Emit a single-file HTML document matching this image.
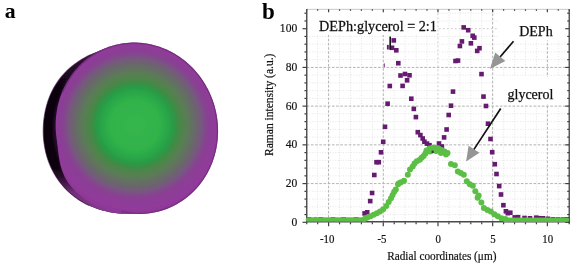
<!DOCTYPE html>
<html><head><meta charset="utf-8"><style>
html,body{margin:0;padding:0;background:#fff;width:575px;height:266px;overflow:hidden;}
svg{display:block;font-family:"Liberation Serif", serif;will-change:transform;}
</style></head><body><svg width="575" height="266" viewBox="0 0 575 266">
<defs>
<radialGradient id="face" cx="135" cy="125" r="90" gradientUnits="userSpaceOnUse"><stop offset="0.000" stop-color="#36b64d"/><stop offset="0.280" stop-color="#30b24a"/><stop offset="0.355" stop-color="#2aa848"/><stop offset="0.420" stop-color="#289c47"/><stop offset="0.467" stop-color="#3a8e44"/><stop offset="0.523" stop-color="#4f844a"/><stop offset="0.579" stop-color="#5a7c56"/><stop offset="0.635" stop-color="#637062"/><stop offset="0.691" stop-color="#6c646e"/><stop offset="0.747" stop-color="#785682"/><stop offset="0.793" stop-color="#86448f"/><stop offset="0.840" stop-color="#8c3d96"/><stop offset="0.933" stop-color="#913a9b"/><stop offset="0.999" stop-color="#8c3896"/></radialGradient>
<radialGradient id="sideR" cx="139" cy="129" r="97" gradientUnits="userSpaceOnUse">
<stop offset="0.835" stop-color="#34123c"/>
<stop offset="0.875" stop-color="#1c0822"/>
<stop offset="0.915" stop-color="#0a020a"/>
<stop offset="1" stop-color="#060106"/>
</radialGradient>
<linearGradient id="sideV" x1="0" y1="46" x2="0" y2="214" gradientUnits="userSpaceOnUse">
<stop offset="0" stop-color="#5a2262" stop-opacity="0.85"/>
<stop offset="0.1" stop-color="#4a1a50" stop-opacity="0.55"/>
<stop offset="0.2" stop-color="#3a1240" stop-opacity="0.25"/>
<stop offset="0.3" stop-color="#2a0c2e" stop-opacity="0.0"/>
<stop offset="0.7" stop-color="#2a0c2e" stop-opacity="0.0"/>
<stop offset="0.79" stop-color="#5a2262" stop-opacity="0.5"/>
<stop offset="0.87" stop-color="#7e3486" stop-opacity="0.9"/>
<stop offset="1" stop-color="#8c3a94" stop-opacity="1"/>
</linearGradient>
<linearGradient id="mg" x1="0" y1="0" x2="1" y2="0"><stop offset="0.5" stop-color="#fff"/><stop offset="0.62" stop-color="#000"/></linearGradient><mask id="leftmask" maskUnits="userSpaceOnUse" x="0" y="0" width="260" height="266"><rect x="0" y="0" width="260" height="266" fill="url(#mg)"/></mask>
<filter id="bl" x="-10%" y="-10%" width="120%" height="120%"><feGaussianBlur stdDeviation="0.7"/></filter>
</defs>
<g filter="url(#bl)">
<g mask="url(#leftmask)"><path d="M217.17,129.00 L217.00,131.73 L216.78,134.46 L216.50,137.18 L216.16,139.89 L215.77,142.59 L215.33,145.28 L214.84,147.96 L214.29,150.64 L213.69,153.31 L213.03,155.98 L212.31,158.63 L211.53,161.28 L210.68,163.91 L209.75,166.53 L208.75,169.12 L207.66,171.70 L206.49,174.24 L205.22,176.74 L203.86,179.20 L202.41,181.61 L200.85,183.96 L199.20,186.24 L197.44,188.46 L195.59,190.60 L193.65,192.65 L191.61,194.61 L189.48,196.47 L187.28,198.24 L185.00,199.90 L182.64,201.46 L180.23,202.91 L177.76,204.26 L175.25,205.51 L172.69,206.65 L170.10,207.69 L167.48,208.64 L164.83,209.49 L162.17,210.26 L159.50,210.95 L156.82,211.55 L154.14,212.09 L151.45,212.55 L148.76,212.95 L146.08,213.28 L143.39,213.56 L140.71,213.77 L138.03,213.94 L135.35,214.05 L132.67,214.10 L130.00,214.10 L127.33,214.04 L124.66,213.93 L121.99,213.76 L119.32,213.52 L116.66,213.22 L114.00,212.86 L111.35,212.43 L108.71,211.92 L106.08,211.34 L103.46,210.69 L100.85,209.96 L98.27,209.14 L95.71,208.25 L93.17,207.27 L90.66,206.21 L88.18,205.07 L85.74,203.84 L83.34,202.53 L80.98,201.13 L78.67,199.66 L76.40,198.10 L74.19,196.46 L72.04,194.74 L69.95,192.95 L67.92,191.08 L65.95,189.14 L64.06,187.14 L62.24,185.06 L60.49,182.92 L58.82,180.72 L57.23,178.46 L55.72,176.14 L54.29,173.77 L52.95,171.36 L51.70,168.90 L50.54,166.39 L49.46,163.85 L48.47,161.28 L47.57,158.68 L46.76,156.05 L46.04,153.39 L45.40,150.72 L44.85,148.03 L44.38,145.33 L44.00,142.62 L43.69,139.90 L43.47,137.18 L43.33,134.45 L43.26,131.73 L43.27,129.00 L43.36,126.28 L43.52,123.56 L43.76,120.85 L44.08,118.15 L44.47,115.45 L44.93,112.77 L45.48,110.11 L46.11,107.46 L46.81,104.83 L47.60,102.23 L48.47,99.65 L49.43,97.10 L50.47,94.59 L51.60,92.11 L52.82,89.67 L54.12,87.29 L55.51,84.95 L56.98,82.66 L58.54,80.44 L60.18,78.27 L61.89,76.17 L63.68,74.14 L65.54,72.17 L67.47,70.28 L69.46,68.46 L71.50,66.71 L73.60,65.03 L75.75,63.42 L77.94,61.88 L80.17,60.42 L82.44,59.01 L84.74,57.68 L87.07,56.40 L89.42,55.19 L91.80,54.03 L94.21,52.93 L96.63,51.89 L99.08,50.90 L101.55,49.97 L104.04,49.09 L106.55,48.27 L109.08,47.50 L111.63,46.80 L114.20,46.16 L116.79,45.58 L119.40,45.07 L122.02,44.63 L124.67,44.26 L127.33,43.98 L130.00,43.77 L132.68,43.66 L135.37,43.63 L138.06,43.69 L140.76,43.84 L143.45,44.09 L146.13,44.43 L148.81,44.87 L151.46,45.40 L154.11,46.02 L156.73,46.74 L159.33,47.54 L161.90,48.43 L164.44,49.40 L166.96,50.46 L169.44,51.60 L171.89,52.81 L174.30,54.09 L176.68,55.45 L179.02,56.87 L181.32,58.37 L183.58,59.93 L185.79,61.56 L187.96,63.25 L190.09,65.01 L192.16,66.84 L194.18,68.73 L196.14,70.69 L198.04,72.71 L199.88,74.80 L201.64,76.95 L203.32,79.17 L204.93,81.45 L206.44,83.79 L207.87,86.19 L209.20,88.64 L210.44,91.15 L211.57,93.70 L212.60,96.30 L213.52,98.93 L214.34,101.60 L215.05,104.29 L215.65,107.01 L216.16,109.74 L216.57,112.49 L216.88,115.24 L217.10,118.00 L217.23,120.75 L217.28,123.51 L217.26,126.26 Z" fill="url(#sideR)"/><path d="M217.17,129.00 L217.00,131.73 L216.78,134.46 L216.50,137.18 L216.16,139.89 L215.77,142.59 L215.33,145.28 L214.84,147.96 L214.29,150.64 L213.69,153.31 L213.03,155.98 L212.31,158.63 L211.53,161.28 L210.68,163.91 L209.75,166.53 L208.75,169.12 L207.66,171.70 L206.49,174.24 L205.22,176.74 L203.86,179.20 L202.41,181.61 L200.85,183.96 L199.20,186.24 L197.44,188.46 L195.59,190.60 L193.65,192.65 L191.61,194.61 L189.48,196.47 L187.28,198.24 L185.00,199.90 L182.64,201.46 L180.23,202.91 L177.76,204.26 L175.25,205.51 L172.69,206.65 L170.10,207.69 L167.48,208.64 L164.83,209.49 L162.17,210.26 L159.50,210.95 L156.82,211.55 L154.14,212.09 L151.45,212.55 L148.76,212.95 L146.08,213.28 L143.39,213.56 L140.71,213.77 L138.03,213.94 L135.35,214.05 L132.67,214.10 L130.00,214.10 L127.33,214.04 L124.66,213.93 L121.99,213.76 L119.32,213.52 L116.66,213.22 L114.00,212.86 L111.35,212.43 L108.71,211.92 L106.08,211.34 L103.46,210.69 L100.85,209.96 L98.27,209.14 L95.71,208.25 L93.17,207.27 L90.66,206.21 L88.18,205.07 L85.74,203.84 L83.34,202.53 L80.98,201.13 L78.67,199.66 L76.40,198.10 L74.19,196.46 L72.04,194.74 L69.95,192.95 L67.92,191.08 L65.95,189.14 L64.06,187.14 L62.24,185.06 L60.49,182.92 L58.82,180.72 L57.23,178.46 L55.72,176.14 L54.29,173.77 L52.95,171.36 L51.70,168.90 L50.54,166.39 L49.46,163.85 L48.47,161.28 L47.57,158.68 L46.76,156.05 L46.04,153.39 L45.40,150.72 L44.85,148.03 L44.38,145.33 L44.00,142.62 L43.69,139.90 L43.47,137.18 L43.33,134.45 L43.26,131.73 L43.27,129.00 L43.36,126.28 L43.52,123.56 L43.76,120.85 L44.08,118.15 L44.47,115.45 L44.93,112.77 L45.48,110.11 L46.11,107.46 L46.81,104.83 L47.60,102.23 L48.47,99.65 L49.43,97.10 L50.47,94.59 L51.60,92.11 L52.82,89.67 L54.12,87.29 L55.51,84.95 L56.98,82.66 L58.54,80.44 L60.18,78.27 L61.89,76.17 L63.68,74.14 L65.54,72.17 L67.47,70.28 L69.46,68.46 L71.50,66.71 L73.60,65.03 L75.75,63.42 L77.94,61.88 L80.17,60.42 L82.44,59.01 L84.74,57.68 L87.07,56.40 L89.42,55.19 L91.80,54.03 L94.21,52.93 L96.63,51.89 L99.08,50.90 L101.55,49.97 L104.04,49.09 L106.55,48.27 L109.08,47.50 L111.63,46.80 L114.20,46.16 L116.79,45.58 L119.40,45.07 L122.02,44.63 L124.67,44.26 L127.33,43.98 L130.00,43.77 L132.68,43.66 L135.37,43.63 L138.06,43.69 L140.76,43.84 L143.45,44.09 L146.13,44.43 L148.81,44.87 L151.46,45.40 L154.11,46.02 L156.73,46.74 L159.33,47.54 L161.90,48.43 L164.44,49.40 L166.96,50.46 L169.44,51.60 L171.89,52.81 L174.30,54.09 L176.68,55.45 L179.02,56.87 L181.32,58.37 L183.58,59.93 L185.79,61.56 L187.96,63.25 L190.09,65.01 L192.16,66.84 L194.18,68.73 L196.14,70.69 L198.04,72.71 L199.88,74.80 L201.64,76.95 L203.32,79.17 L204.93,81.45 L206.44,83.79 L207.87,86.19 L209.20,88.64 L210.44,91.15 L211.57,93.70 L212.60,96.30 L213.52,98.93 L214.34,101.60 L215.05,104.29 L215.65,107.01 L216.16,109.74 L216.57,112.49 L216.88,115.24 L217.10,118.00 L217.23,120.75 L217.28,123.51 L217.26,126.26 Z" fill="url(#sideV)"/></g>
<path d="M57,118 C56.98,120.00 56.82,125.50 56.9,130 C56.98,134.50 57.08,140.00 57.5,145 C57.92,150.00 58.67,155.83 59.4,160 C60.13,164.17 60.73,166.67 61.9,170 C63.07,173.33 64.72,177.08 66.4,180 C68.08,182.92 70.07,185.25 72,187.5 C73.93,189.75 75.00,191.00 78,193.5 C81.00,196.00 85.50,199.88 90,202.5 C94.50,205.12 100.00,207.57 105,209.2 C110.00,210.83 115.00,211.62 120,212.3 C125.00,212.98 132.50,213.13 135,213.3 L137,129 Z" fill="url(#face)"/><path d="M214.54,105.98 L215.32,108.88 L216.00,111.81 L216.59,114.75 L217.08,117.72 L217.47,120.69 L217.77,123.67 L217.96,126.66 L218.06,129.65 L218.05,132.64 L217.95,135.62 L217.75,138.60 L217.45,141.56 L217.06,144.50 L216.56,147.43 L215.97,150.33 L215.28,153.21 L214.50,156.05 L213.62,158.86 L212.65,161.64 L211.58,164.37 L210.43,167.06 L209.18,169.70 L207.85,172.29 L206.43,174.83 L204.92,177.31 L203.34,179.73 L201.67,182.09 L199.92,184.38 L198.10,186.60 L196.20,188.76 L194.22,190.83 L192.18,192.84 L190.07,194.76 L187.90,196.60 L185.67,198.36 L183.37,200.04 L181.02,201.62 L178.61,203.12 L176.16,204.53 L173.65,205.84 L171.10,207.06 L168.51,208.18 L165.88,209.21 L163.22,210.13 L160.52,210.96 L157.79,211.68 L155.04,212.31 L152.27,212.83 L149.47,213.25 L146.67,213.56 L143.85,213.77 L141.02,213.88 L138.18,213.88 L135.35,213.78 L132.51,213.57 L129.69,213.26 L126.87,212.85 L124.06,212.33 L121.27,211.71 L118.50,210.99 L115.74,210.17 L113.02,209.25 L110.32,208.23 L107.66,207.11 L105.03,205.89 L102.44,204.59 L99.90,203.18 L97.39,201.69 L94.94,200.11 L92.54,198.44 L90.19,196.68 L87.90,194.84 L85.66,192.92 L83.49,190.92 L81.39,188.85 L79.35,186.70 L77.38,184.48 L75.49,182.19 L73.67,179.83 L71.92,177.41 L70.26,174.94 L68.68,172.40 L67.18,169.81 L65.76,167.17 L64.43,164.49 L63.19,161.75 L62.04,158.98 L60.98,156.17 L60.01,153.33 L59.14,150.46 L58.36,147.56 L57.68,144.63 L57.09,141.69 L56.60,138.72 L56.21,135.75 L55.91,132.77 L55.72,129.78 L55.62,126.79 L55.63,123.80 L55.73,120.82 L55.93,117.84 L56.23,114.88 L56.62,111.94 L57.12,109.01 L57.71,106.11 L58.40,103.23 L59.18,100.39 L60.06,97.58 L61.03,94.80 L62.10,92.07 L63.25,89.38 L64.50,86.74 L65.83,84.15 L67.25,81.61 L68.76,79.13 L70.34,76.71 L72.01,74.35 L73.76,72.06 L75.58,69.84 L77.48,67.68 L79.46,65.61 L81.50,63.60 L83.61,61.68 L85.78,59.84 L88.01,58.08 L90.31,56.40 L92.66,54.82 L95.07,53.32 L97.52,51.91 L100.03,50.60 L102.58,49.38 L105.17,48.26 L107.80,47.23 L110.46,46.31 L113.16,45.48 L115.89,44.76 L118.64,44.13 L121.41,43.61 L124.21,43.19 L127.01,42.88 L129.83,42.67 L132.66,42.56 L135.50,42.56 L138.33,42.66 L141.17,42.87 L143.99,43.18 L146.81,43.59 L149.62,44.11 L152.41,44.73 L155.18,45.45 L157.94,46.27 L160.66,47.19 L163.36,48.21 L166.02,49.33 L168.65,50.55 L171.24,51.85 L173.78,53.26 L176.29,54.75 L178.74,56.33 L181.14,58.00 L183.49,59.76 L185.78,61.60 L188.02,63.52 L190.19,65.52 L192.29,67.59 L194.33,69.74 L196.30,71.96 L198.19,74.25 L200.01,76.61 L201.76,79.03 L203.42,81.50 L205.00,84.04 L206.50,86.63 L207.92,89.27 L209.25,91.95 L210.49,94.69 L211.64,97.46 L212.70,100.27 L213.67,103.11 Z" fill="url(#face)"/><path d="M62.65,92.32 L63.71,89.84 L64.84,87.40 L66.06,85.00 L67.35,82.65 L68.71,80.35 L70.14,78.09 L71.64,75.89 L73.21,73.75 L74.85,71.66 L76.55,69.63 L78.32,67.66 L80.14,65.76 L82.03,63.92 L83.98,62.15 L85.98,60.45 L88.03,58.82 L90.13,57.26 L92.29,55.78 L94.49,54.37 L96.73,53.04 L99.02,51.79 L101.34,50.62 L103.71,49.53 L106.10,48.53 L108.53,47.60 L110.99,46.77 L113.48,46.01 L115.99,45.35 L118.53,44.77 L121.08,44.28 L123.65,43.87 L126.23,43.56 L128.83,43.33 L131.43,43.19 L134.04,43.15 L136.65,43.19 L139.26,43.32 L141.87,43.54 L144.47,43.84 L147.07,44.24 L149.66,44.73 L152.23,45.30 L154.78,45.96 L157.32,46.70 L159.83,47.54 L162.33,48.45 L164.79,49.45 L167.22,50.53 L169.63,51.70 L172.00,52.94 L174.33,54.27 L176.62,55.67 L178.87,57.14 L181.08,58.70 L183.24,60.32 L185.35,62.02 L187.41,63.78 L189.42,65.62 L191.37,67.51 L193.26,69.48 L195.10,71.50 L196.88,73.58 L198.59,75.72 L200.23,77.92 L201.81,80.17 L203.33,82.47 L204.77,84.82 L206.14,87.21 L207.44,89.64 L208.66,92.12 L209.81,94.63 L210.88,97.18 L211.88,99.77 L212.80,102.38 L213.63,105.02 L214.39,107.68 L215.06,110.36 L215.65,113.07 L216.16,115.79 L216.59,118.52 L216.93,121.26 L217.19,124.01 L217.37,126.77 L217.46,129.52 L217.46,132.28 L217.38,135.03 L217.22,137.77 L216.97,140.50 L216.64,143.22 L216.22,145.93 L215.72,148.61 L215.14,151.28 L214.47,153.92 L213.73,156.53 L212.90,159.12 L212.00,161.67 L211.01,164.18 L209.95,166.66 L208.81,169.10 L207.59,171.49 L206.30,173.84 L204.94,176.15 L203.51,178.40 L202.00,180.60 L200.43,182.74 L198.79,184.83 L197.09,186.85 L195.32,188.82 L193.49,190.72 L191.60,192.56 L189.66,194.33 L187.66,196.03 L185.60,197.66 L183.50,199.21 L181.34,200.69 L179.14,202.10 L176.90,203.43 L174.61,204.67 L172.28,205.84 L169.92,206.93 L167.52,207.93 L165.09,208.86 L162.63,209.69 L160.14,210.44 L157.63,211.11 L155.09,211.68 L152.54,212.17 L149.97,212.58 L147.39,212.89 L144.79,213.11 L142.19,213.25 L139.58,213.29 L136.97,213.25 L134.36,213.12 L131.75,212.90 L129.14,212.59 L126.55,212.19 L123.96,211.70 L121.39,211.13" fill="none" stroke="#6e2a76" stroke-width="1.2" stroke-opacity="0.8"/><path d="M90.48,54.67 L88.83,55.49 L87.19,56.34 L85.57,57.22 L83.95,58.12 L82.36,59.06 L80.78,60.03 L79.22,61.03 L77.67,62.07 L76.14,63.14 L74.64,64.24 L73.16,65.37 L71.70,66.55 L70.27,67.75 L68.86,68.99 L67.48,70.27 L66.13,71.58 L64.82,72.92 L63.53,74.30 L62.29,75.71 L61.07,77.15 L59.90,78.63 L58.76,80.14 L57.66,81.68 L56.60,83.24 L55.58,84.84 L54.60,86.46 L53.66,88.10 L52.77,89.77 L51.92,91.46 L51.10,93.17 L50.34,94.90 L49.61,96.65 L48.92,98.42 L48.28,100.20 L47.68,101.99 L47.11,103.80 L46.59,105.62 L46.11,107.45 L45.66,109.29 L45.26,111.14 L44.89,113.00 L44.56,114.87 L44.27,116.74 L44.02,118.61 L43.80,120.49 L43.62,122.38 L43.47,124.27 L43.37,126.16 L43.29,128.05 L43.26,129.95 L43.26,131.85 L43.30,133.74 L43.38,135.64 L43.49,137.54 L43.65,139.43 L43.84,141.33 L44.07,143.22 L44.34,145.10 L44.65,146.98 L45.01,148.86 L45.40,150.73 L45.83,152.59 L46.31,154.44 L46.83,156.28 L47.39,158.11 L47.99,159.93 L48.64,161.74 L49.33,163.53 L50.06,165.30 L50.84,167.06 L51.65,168.80 L52.51,170.52 L53.42,172.21 L54.36,173.89 L55.35,175.54 L56.37,177.17 L57.44,178.77 L58.54,180.34 L59.69,181.89 L60.87,183.40 L62.09,184.89 L63.35,186.34 L64.64,187.77 L65.97,189.16 L67.33,190.51 L68.72,191.84 L70.14,193.12 L71.60,194.37 L73.08,195.59 L74.59,196.76 L76.13,197.90 L77.69,199.00 L79.28,200.06 L80.90,201.08 L82.53,202.06 L84.19,203.01 L85.87,203.91 L87.56,204.77 L89.28,205.59" fill="none" stroke="#3a1040" stroke-width="1.1" stroke-opacity="0.6"/>
</g>
<g stroke="#e2e2e2" stroke-width="0.9" stroke-dasharray="1 1.6"><line x1="317.66" y1="9.34" x2="317.66" y2="222.30"/><line x1="339.54" y1="9.34" x2="339.54" y2="222.30"/><line x1="350.48" y1="9.34" x2="350.48" y2="222.30"/><line x1="361.41" y1="9.34" x2="361.41" y2="222.30"/><line x1="372.35" y1="9.34" x2="372.35" y2="222.30"/><line x1="394.23" y1="9.34" x2="394.23" y2="222.30"/><line x1="405.17" y1="9.34" x2="405.17" y2="222.30"/><line x1="416.10" y1="9.34" x2="416.10" y2="222.30"/><line x1="427.04" y1="9.34" x2="427.04" y2="222.30"/><line x1="448.92" y1="9.34" x2="448.92" y2="222.30"/><line x1="459.86" y1="9.34" x2="459.86" y2="222.30"/><line x1="470.79" y1="9.34" x2="470.79" y2="222.30"/><line x1="481.73" y1="9.34" x2="481.73" y2="222.30"/><line x1="503.61" y1="9.34" x2="503.61" y2="222.30"/><line x1="514.55" y1="9.34" x2="514.55" y2="222.30"/><line x1="525.48" y1="9.34" x2="525.48" y2="222.30"/><line x1="536.42" y1="9.34" x2="536.42" y2="222.30"/><line x1="558.30" y1="9.34" x2="558.30" y2="222.30"/><line x1="306.72" y1="214.56" x2="569.24" y2="214.56"/><line x1="306.72" y1="206.81" x2="569.24" y2="206.81"/><line x1="306.72" y1="199.07" x2="569.24" y2="199.07"/><line x1="306.72" y1="191.32" x2="569.24" y2="191.32"/><line x1="306.72" y1="175.84" x2="569.24" y2="175.84"/><line x1="306.72" y1="168.09" x2="569.24" y2="168.09"/><line x1="306.72" y1="160.35" x2="569.24" y2="160.35"/><line x1="306.72" y1="152.60" x2="569.24" y2="152.60"/><line x1="306.72" y1="137.12" x2="569.24" y2="137.12"/><line x1="306.72" y1="129.37" x2="569.24" y2="129.37"/><line x1="306.72" y1="121.63" x2="569.24" y2="121.63"/><line x1="306.72" y1="113.88" x2="569.24" y2="113.88"/><line x1="306.72" y1="98.40" x2="569.24" y2="98.40"/><line x1="306.72" y1="90.65" x2="569.24" y2="90.65"/><line x1="306.72" y1="82.91" x2="569.24" y2="82.91"/><line x1="306.72" y1="75.16" x2="569.24" y2="75.16"/><line x1="306.72" y1="59.68" x2="569.24" y2="59.68"/><line x1="306.72" y1="51.93" x2="569.24" y2="51.93"/><line x1="306.72" y1="44.19" x2="569.24" y2="44.19"/><line x1="306.72" y1="36.44" x2="569.24" y2="36.44"/><line x1="306.72" y1="20.96" x2="569.24" y2="20.96"/><line x1="306.72" y1="13.21" x2="569.24" y2="13.21"/></g><g stroke="#b2b2b2" stroke-width="1" stroke-dasharray="2.6 1.6"><line x1="328.60" y1="9.34" x2="328.60" y2="222.30"/><line x1="383.29" y1="9.34" x2="383.29" y2="222.30"/><line x1="492.67" y1="9.34" x2="492.67" y2="222.30"/><line x1="547.36" y1="9.34" x2="547.36" y2="222.30"/><line x1="306.72" y1="183.58" x2="569.24" y2="183.58"/><line x1="306.72" y1="144.86" x2="569.24" y2="144.86"/><line x1="306.72" y1="106.14" x2="569.24" y2="106.14"/><line x1="306.72" y1="67.42" x2="569.24" y2="67.42"/></g><g stroke="#cdcdcd" stroke-width="1" stroke-dasharray="2 2"><line x1="437.98" y1="9.34" x2="437.98" y2="222.30"/><line x1="306.72" y1="28.70" x2="569.24" y2="28.70"/></g><rect x="307.5" y="10" width="129.5" height="25" fill="#fff"/><rect x="498" y="10" width="70.5" height="30.5" fill="#fff"/><rect x="494" y="77" width="74.5" height="27" fill="#fff"/><line x1="306.72" y1="9.34" x2="569.24" y2="9.34" stroke="#c8c8c8" stroke-width="1"/><line x1="306.72" y1="9.34" x2="306.72" y2="222.30" stroke="#505050" stroke-width="1.5"/><line x1="569.24" y1="9.34" x2="569.24" y2="223.30" stroke="#505050" stroke-width="1.4"/><line x1="306.72" y1="221.85" x2="569.24" y2="221.85" stroke="#4a4a4a" stroke-width="1.5"/><g stroke="#404040" stroke-width="1.2"><line x1="306.72" y1="222.30" x2="306.72" y2="224.30"/><line x1="306.72" y1="9.34" x2="306.72" y2="10.84"/><line x1="317.66" y1="222.30" x2="317.66" y2="224.30"/><line x1="317.66" y1="9.34" x2="317.66" y2="10.84"/><line x1="328.60" y1="222.30" x2="328.60" y2="226.30"/><line x1="328.60" y1="9.34" x2="328.60" y2="12.34"/><line x1="339.54" y1="222.30" x2="339.54" y2="224.30"/><line x1="339.54" y1="9.34" x2="339.54" y2="10.84"/><line x1="350.48" y1="222.30" x2="350.48" y2="224.30"/><line x1="350.48" y1="9.34" x2="350.48" y2="10.84"/><line x1="361.41" y1="222.30" x2="361.41" y2="224.30"/><line x1="361.41" y1="9.34" x2="361.41" y2="10.84"/><line x1="372.35" y1="222.30" x2="372.35" y2="224.30"/><line x1="372.35" y1="9.34" x2="372.35" y2="10.84"/><line x1="383.29" y1="222.30" x2="383.29" y2="226.30"/><line x1="383.29" y1="9.34" x2="383.29" y2="12.34"/><line x1="394.23" y1="222.30" x2="394.23" y2="224.30"/><line x1="394.23" y1="9.34" x2="394.23" y2="10.84"/><line x1="405.17" y1="222.30" x2="405.17" y2="224.30"/><line x1="405.17" y1="9.34" x2="405.17" y2="10.84"/><line x1="416.10" y1="222.30" x2="416.10" y2="224.30"/><line x1="416.10" y1="9.34" x2="416.10" y2="10.84"/><line x1="427.04" y1="222.30" x2="427.04" y2="224.30"/><line x1="427.04" y1="9.34" x2="427.04" y2="10.84"/><line x1="437.98" y1="222.30" x2="437.98" y2="226.30"/><line x1="437.98" y1="9.34" x2="437.98" y2="12.34"/><line x1="448.92" y1="222.30" x2="448.92" y2="224.30"/><line x1="448.92" y1="9.34" x2="448.92" y2="10.84"/><line x1="459.86" y1="222.30" x2="459.86" y2="224.30"/><line x1="459.86" y1="9.34" x2="459.86" y2="10.84"/><line x1="470.79" y1="222.30" x2="470.79" y2="224.30"/><line x1="470.79" y1="9.34" x2="470.79" y2="10.84"/><line x1="481.73" y1="222.30" x2="481.73" y2="224.30"/><line x1="481.73" y1="9.34" x2="481.73" y2="10.84"/><line x1="492.67" y1="222.30" x2="492.67" y2="226.30"/><line x1="492.67" y1="9.34" x2="492.67" y2="12.34"/><line x1="503.61" y1="222.30" x2="503.61" y2="224.30"/><line x1="503.61" y1="9.34" x2="503.61" y2="10.84"/><line x1="514.55" y1="222.30" x2="514.55" y2="224.30"/><line x1="514.55" y1="9.34" x2="514.55" y2="10.84"/><line x1="525.48" y1="222.30" x2="525.48" y2="224.30"/><line x1="525.48" y1="9.34" x2="525.48" y2="10.84"/><line x1="536.42" y1="222.30" x2="536.42" y2="224.30"/><line x1="536.42" y1="9.34" x2="536.42" y2="10.84"/><line x1="547.36" y1="222.30" x2="547.36" y2="226.30"/><line x1="547.36" y1="9.34" x2="547.36" y2="12.34"/><line x1="558.30" y1="222.30" x2="558.30" y2="224.30"/><line x1="558.30" y1="9.34" x2="558.30" y2="10.84"/><line x1="569.24" y1="222.30" x2="569.24" y2="224.30"/><line x1="569.24" y1="9.34" x2="569.24" y2="10.84"/><line x1="302.52" y1="222.30" x2="306.72" y2="222.30"/><line x1="569.24" y1="222.30" x2="565.24" y2="222.30"/><line x1="304.42" y1="214.56" x2="306.72" y2="214.56"/><line x1="569.24" y1="214.56" x2="567.24" y2="214.56"/><line x1="304.42" y1="206.81" x2="306.72" y2="206.81"/><line x1="569.24" y1="206.81" x2="567.24" y2="206.81"/><line x1="304.42" y1="199.07" x2="306.72" y2="199.07"/><line x1="569.24" y1="199.07" x2="567.24" y2="199.07"/><line x1="304.42" y1="191.32" x2="306.72" y2="191.32"/><line x1="569.24" y1="191.32" x2="567.24" y2="191.32"/><line x1="302.52" y1="183.58" x2="306.72" y2="183.58"/><line x1="569.24" y1="183.58" x2="565.24" y2="183.58"/><line x1="304.42" y1="175.84" x2="306.72" y2="175.84"/><line x1="569.24" y1="175.84" x2="567.24" y2="175.84"/><line x1="304.42" y1="168.09" x2="306.72" y2="168.09"/><line x1="569.24" y1="168.09" x2="567.24" y2="168.09"/><line x1="304.42" y1="160.35" x2="306.72" y2="160.35"/><line x1="569.24" y1="160.35" x2="567.24" y2="160.35"/><line x1="304.42" y1="152.60" x2="306.72" y2="152.60"/><line x1="569.24" y1="152.60" x2="567.24" y2="152.60"/><line x1="302.52" y1="144.86" x2="306.72" y2="144.86"/><line x1="569.24" y1="144.86" x2="565.24" y2="144.86"/><line x1="304.42" y1="137.12" x2="306.72" y2="137.12"/><line x1="569.24" y1="137.12" x2="567.24" y2="137.12"/><line x1="304.42" y1="129.37" x2="306.72" y2="129.37"/><line x1="569.24" y1="129.37" x2="567.24" y2="129.37"/><line x1="304.42" y1="121.63" x2="306.72" y2="121.63"/><line x1="569.24" y1="121.63" x2="567.24" y2="121.63"/><line x1="304.42" y1="113.88" x2="306.72" y2="113.88"/><line x1="569.24" y1="113.88" x2="567.24" y2="113.88"/><line x1="302.52" y1="106.14" x2="306.72" y2="106.14"/><line x1="569.24" y1="106.14" x2="565.24" y2="106.14"/><line x1="304.42" y1="98.40" x2="306.72" y2="98.40"/><line x1="569.24" y1="98.40" x2="567.24" y2="98.40"/><line x1="304.42" y1="90.65" x2="306.72" y2="90.65"/><line x1="569.24" y1="90.65" x2="567.24" y2="90.65"/><line x1="304.42" y1="82.91" x2="306.72" y2="82.91"/><line x1="569.24" y1="82.91" x2="567.24" y2="82.91"/><line x1="304.42" y1="75.16" x2="306.72" y2="75.16"/><line x1="569.24" y1="75.16" x2="567.24" y2="75.16"/><line x1="302.52" y1="67.42" x2="306.72" y2="67.42"/><line x1="569.24" y1="67.42" x2="565.24" y2="67.42"/><line x1="304.42" y1="59.68" x2="306.72" y2="59.68"/><line x1="569.24" y1="59.68" x2="567.24" y2="59.68"/><line x1="304.42" y1="51.93" x2="306.72" y2="51.93"/><line x1="569.24" y1="51.93" x2="567.24" y2="51.93"/><line x1="304.42" y1="44.19" x2="306.72" y2="44.19"/><line x1="569.24" y1="44.19" x2="567.24" y2="44.19"/><line x1="304.42" y1="36.44" x2="306.72" y2="36.44"/><line x1="569.24" y1="36.44" x2="567.24" y2="36.44"/><line x1="302.52" y1="28.70" x2="306.72" y2="28.70"/><line x1="569.24" y1="28.70" x2="565.24" y2="28.70"/><line x1="304.42" y1="20.96" x2="306.72" y2="20.96"/><line x1="569.24" y1="20.96" x2="567.24" y2="20.96"/><line x1="304.42" y1="13.21" x2="306.72" y2="13.21"/><line x1="569.24" y1="13.21" x2="567.24" y2="13.21"/></g><g fill="#661b70"><rect x="391.50" y="38.10" width="4.6" height="4.6"/><rect x="389.70" y="45.50" width="4.6" height="4.6"/><rect x="394.00" y="48.00" width="4.6" height="4.6"/><rect x="396.00" y="60.90" width="4.6" height="4.6"/><rect x="398.20" y="73.20" width="4.6" height="4.6"/><rect x="402.70" y="71.70" width="4.6" height="4.6"/><rect x="407.20" y="73.00" width="4.6" height="4.6"/><rect x="404.80" y="78.00" width="4.6" height="4.6"/><rect x="387.50" y="83.70" width="4.6" height="4.6"/><rect x="400.30" y="83.60" width="4.6" height="4.6"/><rect x="409.00" y="96.40" width="4.6" height="4.6"/><rect x="385.30" y="101.40" width="4.6" height="4.6"/><rect x="411.50" y="106.60" width="4.6" height="4.6"/><rect x="413.60" y="114.80" width="4.6" height="4.6"/><rect x="382.70" y="124.50" width="4.6" height="4.6"/><rect x="415.50" y="129.90" width="4.6" height="4.6"/><rect x="418.10" y="132.80" width="4.6" height="4.6"/><rect x="420.40" y="136.20" width="4.6" height="4.6"/><rect x="422.10" y="139.40" width="4.6" height="4.6"/><rect x="424.70" y="141.30" width="4.6" height="4.6"/><rect x="427.20" y="142.90" width="4.6" height="4.6"/><rect x="430.30" y="148.20" width="4.6" height="4.6"/><rect x="380.90" y="139.50" width="4.6" height="4.6"/><rect x="378.70" y="150.00" width="4.6" height="4.6"/><rect x="374.20" y="159.90" width="4.6" height="4.6"/><rect x="376.50" y="159.90" width="4.6" height="4.6"/><rect x="372.00" y="172.70" width="4.6" height="4.6"/><rect x="369.80" y="190.70" width="4.6" height="4.6"/><rect x="367.90" y="198.80" width="4.6" height="4.6"/><rect x="364.90" y="210.00" width="4.6" height="4.6"/><rect x="362.30" y="211.10" width="4.6" height="4.6"/><rect x="436.70" y="141.20" width="4.6" height="4.6"/><rect x="439.60" y="144.20" width="4.6" height="4.6"/><rect x="441.80" y="135.10" width="4.6" height="4.6"/><rect x="444.30" y="127.20" width="4.6" height="4.6"/><rect x="446.40" y="112.70" width="4.6" height="4.6"/><rect x="448.70" y="103.40" width="4.6" height="4.6"/><rect x="450.70" y="89.30" width="4.6" height="4.6"/><rect x="453.20" y="58.70" width="4.6" height="4.6"/><rect x="455.70" y="58.30" width="4.6" height="4.6"/><rect x="457.60" y="43.70" width="4.6" height="4.6"/><rect x="459.60" y="39.10" width="4.6" height="4.6"/><rect x="461.40" y="25.10" width="4.6" height="4.6"/><rect x="465.90" y="27.90" width="4.6" height="4.6"/><rect x="468.60" y="41.00" width="4.6" height="4.6"/><rect x="470.40" y="33.50" width="4.6" height="4.6"/><rect x="472.00" y="35.30" width="4.6" height="4.6"/><rect x="474.90" y="48.60" width="4.6" height="4.6"/><rect x="477.20" y="45.90" width="4.6" height="4.6"/><rect x="479.20" y="71.80" width="4.6" height="4.6"/><rect x="481.20" y="94.30" width="4.6" height="4.6"/><rect x="483.70" y="103.70" width="4.6" height="4.6"/><rect x="485.70" y="121.40" width="4.6" height="4.6"/><rect x="488.20" y="136.70" width="4.6" height="4.6"/><rect x="489.90" y="149.90" width="4.6" height="4.6"/><rect x="492.50" y="161.90" width="4.6" height="4.6"/><rect x="494.20" y="171.70" width="4.6" height="4.6"/><rect x="496.90" y="183.80" width="4.6" height="4.6"/><rect x="498.70" y="192.20" width="4.6" height="4.6"/><rect x="501.10" y="202.90" width="4.6" height="4.6"/><rect x="503.60" y="209.00" width="4.6" height="4.6"/><rect x="505.50" y="210.90" width="4.6" height="4.6"/><rect x="508.00" y="210.40" width="4.6" height="4.6"/><rect x="512.40" y="215.10" width="4.6" height="4.6"/><rect x="515.80" y="214.90" width="4.6" height="4.6"/><rect x="522.20" y="215.70" width="4.6" height="4.6"/><rect x="527.70" y="216.00" width="4.6" height="4.6"/><rect x="533.90" y="215.40" width="4.6" height="4.6"/><rect x="536.40" y="215.90" width="4.6" height="4.6"/><rect x="540.70" y="216.00" width="4.6" height="4.6"/><rect x="545.70" y="216.50" width="4.6" height="4.6"/><rect x="550.70" y="217.00" width="4.6" height="4.6"/><rect x="555.70" y="217.20" width="4.6" height="4.6"/><rect x="560.70" y="217.20" width="4.6" height="4.6"/><rect x="564.70" y="217.00" width="4.6" height="4.6"/><rect x="306.70" y="217.10" width="4.6" height="4.6"/><rect x="318.40" y="217.10" width="4.6" height="4.6"/><rect x="330.70" y="217.10" width="4.6" height="4.6"/><rect x="341.30" y="217.10" width="4.6" height="4.6"/><rect x="353.70" y="217.10" width="4.6" height="4.6"/></g><rect x="386.9" y="44.9" width="1.9" height="4.6" fill="#661b70"/><rect x="383.8" y="63.4" width="1.1" height="3.8" fill="#8a4a90"/><line x1="390.2" y1="36.6" x2="390.2" y2="49.6" stroke="#141414" stroke-width="1.7"/><g fill="#5cbf45"><circle cx="365.00" cy="218.70" r="3.0"/><circle cx="367.40" cy="217.60" r="3.0"/><circle cx="370.50" cy="216.30" r="3.0"/><circle cx="373.70" cy="214.80" r="3.0"/><circle cx="376.80" cy="213.20" r="3.0"/><circle cx="380.00" cy="211.60" r="3.0"/><circle cx="383.20" cy="209.20" r="3.0"/><circle cx="386.30" cy="206.10" r="3.0"/><circle cx="388.70" cy="202.10" r="3.0"/><circle cx="391.00" cy="198.20" r="3.0"/><circle cx="392.60" cy="195.00" r="3.0"/><circle cx="394.20" cy="191.80" r="3.0"/><circle cx="395.80" cy="189.40" r="3.0"/><circle cx="398.00" cy="184.30" r="3.0"/><circle cx="399.00" cy="183.20" r="3.0"/><circle cx="401.00" cy="182.30" r="3.0"/><circle cx="404.00" cy="180.80" r="3.0"/><circle cx="407.80" cy="174.80" r="3.0"/><circle cx="410.00" cy="169.50" r="3.0"/><circle cx="412.70" cy="166.50" r="3.0"/><circle cx="414.50" cy="163.50" r="3.0"/><circle cx="416.80" cy="161.30" r="3.0"/><circle cx="419.80" cy="159.80" r="3.0"/><circle cx="421.60" cy="157.80" r="3.0"/><circle cx="423.60" cy="156.00" r="3.0"/><circle cx="425.40" cy="153.40" r="3.0"/><circle cx="427.30" cy="150.80" r="3.0"/><circle cx="426.50" cy="150.50" r="3.0"/><circle cx="429.50" cy="148.50" r="3.0"/><circle cx="432.50" cy="147.70" r="3.0"/><circle cx="435.50" cy="147.70" r="3.0"/><circle cx="438.50" cy="148.50" r="3.0"/><circle cx="441.50" cy="150.00" r="3.0"/><circle cx="444.50" cy="151.50" r="3.0"/><circle cx="447.50" cy="153.00" r="3.0"/><circle cx="430.00" cy="151.50" r="3.0"/><circle cx="436.00" cy="151.00" r="3.0"/><circle cx="441.00" cy="153.00" r="3.0"/><circle cx="446.00" cy="154.50" r="3.0"/><circle cx="451.00" cy="164.00" r="3.0"/><circle cx="454.80" cy="165.20" r="3.0"/><circle cx="457.80" cy="171.50" r="3.0"/><circle cx="460.80" cy="173.00" r="3.0"/><circle cx="463.80" cy="174.80" r="3.0"/><circle cx="466.80" cy="181.30" r="3.0"/><circle cx="469.80" cy="184.30" r="3.0"/><circle cx="472.80" cy="185.80" r="3.0"/><circle cx="475.30" cy="191.30" r="3.0"/><circle cx="477.60" cy="197.80" r="3.0"/><circle cx="478.60" cy="195.40" r="3.0"/><circle cx="481.40" cy="202.40" r="3.0"/><circle cx="483.90" cy="207.90" r="3.0"/><circle cx="487.40" cy="210.00" r="3.0"/><circle cx="490.80" cy="211.40" r="3.0"/><circle cx="494.30" cy="214.20" r="3.0"/><circle cx="497.80" cy="216.30" r="3.0"/><circle cx="501.30" cy="218.30" r="3.0"/><circle cx="505.40" cy="219.00" r="3.0"/><circle cx="308.00" cy="219.60" r="2.25"/><circle cx="310.00" cy="219.60" r="2.25"/><circle cx="312.00" cy="219.60" r="2.25"/><circle cx="314.00" cy="219.60" r="2.25"/><circle cx="316.00" cy="219.60" r="2.25"/><circle cx="318.00" cy="219.60" r="2.25"/><circle cx="320.00" cy="219.60" r="2.25"/><circle cx="322.00" cy="219.60" r="2.25"/><circle cx="324.00" cy="219.60" r="2.25"/><circle cx="326.00" cy="219.60" r="2.25"/><circle cx="328.00" cy="219.60" r="2.25"/><circle cx="330.00" cy="219.60" r="2.25"/><circle cx="332.00" cy="219.60" r="2.25"/><circle cx="334.00" cy="219.60" r="2.25"/><circle cx="336.00" cy="219.60" r="2.25"/><circle cx="338.00" cy="219.60" r="2.25"/><circle cx="340.00" cy="219.60" r="2.25"/><circle cx="342.00" cy="219.60" r="2.25"/><circle cx="344.00" cy="219.60" r="2.25"/><circle cx="346.00" cy="219.60" r="2.25"/><circle cx="348.00" cy="219.60" r="2.25"/><circle cx="350.00" cy="219.60" r="2.25"/><circle cx="352.00" cy="219.60" r="2.25"/><circle cx="354.00" cy="219.60" r="2.25"/><circle cx="356.00" cy="219.60" r="2.25"/><circle cx="358.00" cy="219.60" r="2.25"/><circle cx="360.00" cy="219.60" r="2.25"/><circle cx="362.00" cy="219.60" r="2.25"/><circle cx="364.00" cy="219.60" r="2.25"/><circle cx="505.00" cy="219.70" r="2.25"/><circle cx="507.00" cy="219.70" r="2.25"/><circle cx="509.00" cy="219.70" r="2.25"/><circle cx="511.00" cy="219.70" r="2.25"/><circle cx="513.00" cy="219.70" r="2.25"/><circle cx="515.00" cy="219.70" r="2.25"/><circle cx="517.00" cy="219.70" r="2.25"/><circle cx="519.00" cy="219.70" r="2.25"/><circle cx="521.00" cy="219.70" r="2.25"/><circle cx="523.00" cy="219.70" r="2.25"/><circle cx="525.00" cy="219.70" r="2.25"/><circle cx="527.00" cy="219.70" r="2.25"/><circle cx="529.00" cy="219.70" r="2.25"/><circle cx="531.00" cy="219.70" r="2.25"/><circle cx="533.00" cy="219.70" r="2.25"/><circle cx="535.00" cy="219.70" r="2.25"/><circle cx="537.00" cy="219.70" r="2.25"/><circle cx="539.00" cy="219.70" r="2.25"/><circle cx="541.00" cy="219.70" r="2.25"/><circle cx="543.00" cy="219.70" r="2.25"/><circle cx="545.00" cy="219.70" r="2.25"/><circle cx="547.00" cy="219.70" r="2.25"/><circle cx="549.00" cy="219.70" r="2.25"/><circle cx="551.00" cy="219.70" r="2.25"/><circle cx="553.00" cy="219.70" r="2.25"/><circle cx="555.00" cy="219.70" r="2.25"/><circle cx="557.00" cy="219.70" r="2.25"/><circle cx="559.00" cy="219.70" r="2.25"/><circle cx="561.00" cy="219.70" r="2.25"/><circle cx="563.00" cy="219.70" r="2.25"/><circle cx="565.00" cy="219.70" r="2.25"/><circle cx="567.00" cy="219.70" r="2.25"/><circle cx="315.40" cy="218.90" r="2.25"/></g><rect x="431.6" y="150.6" width="2" height="2.6" fill="#2a2a2a" opacity="0.85"/><line x1="513.5" y1="41.25" x2="499.62" y2="57.57" stroke="#111" stroke-width="1.7"/><polygon points="489.9,69 495.24,52.54 505.29,61.09" fill="#959595"/><line x1="500.7" y1="108.5" x2="473.49" y2="150.10" stroke="#111" stroke-width="1.7"/><polygon points="466.1,161.4 468.60,145.71 479.48,152.82" fill="#959595"/><text transform="translate(319.1,30.7) scale(0.975,1)" font-family="Liberation Serif, serif" font-size="14.6" fill="#111" stroke="#111" stroke-width="0.25">DEPh:glycerol = 2:1</text><text x="519.2" y="36.2" font-family="Liberation Serif, serif" font-size="14" fill="#111" stroke="#111" stroke-width="0.25">DEPh</text><text x="507.5" y="99.2" font-family="Liberation Serif, serif" font-size="14" fill="#111" stroke="#111" stroke-width="0.25">glycerol</text><g font-family="Liberation Serif, serif" fill="#111" stroke="#111" stroke-width="0.2"><text transform="translate(297.2,225.70) scale(0.89,1)" text-anchor="end" font-size="13">0</text><text transform="translate(297.2,186.98) scale(0.89,1)" text-anchor="end" font-size="13">20</text><text transform="translate(297.2,148.26) scale(0.89,1)" text-anchor="end" font-size="13">40</text><text transform="translate(297.2,109.54) scale(0.89,1)" text-anchor="end" font-size="13">60</text><text transform="translate(297.2,70.82) scale(0.89,1)" text-anchor="end" font-size="13">80</text><text transform="translate(297.2,32.10) scale(0.89,1)" text-anchor="end" font-size="13">100</text><text transform="translate(327.20,242.7) scale(0.88,1)" text-anchor="middle" font-size="12.3">-10</text><text transform="translate(381.89,242.7) scale(0.88,1)" text-anchor="middle" font-size="12.3">-5</text><text transform="translate(438.28,242.7) scale(0.88,1)" text-anchor="middle" font-size="12.3">0</text><text transform="translate(492.97,242.7) scale(0.88,1)" text-anchor="middle" font-size="12.3">5</text><text transform="translate(547.66,242.7) scale(0.88,1)" text-anchor="middle" font-size="12.3">10</text></g><text transform="translate(441.8,259.9) scale(0.94,1)" font-family="Liberation Serif, serif" font-size="12" fill="#111" stroke="#111" stroke-width="0.2" text-anchor="middle">Radial coordinates (μm)</text><text transform="translate(273.2,104.8) rotate(-90) scale(0.96,1)" font-family="Liberation Serif, serif" font-size="12" fill="#111" stroke="#111" stroke-width="0.2" text-anchor="middle">Raman intensity (a.u.)</text><text x="4.8" y="18" font-family="Liberation Serif, serif" font-size="21.8" font-weight="bold" fill="#000">a</text><text x="262" y="18.8" font-family="Liberation Serif, serif" font-size="23" font-weight="bold" fill="#000">b</text></svg></body></html>
